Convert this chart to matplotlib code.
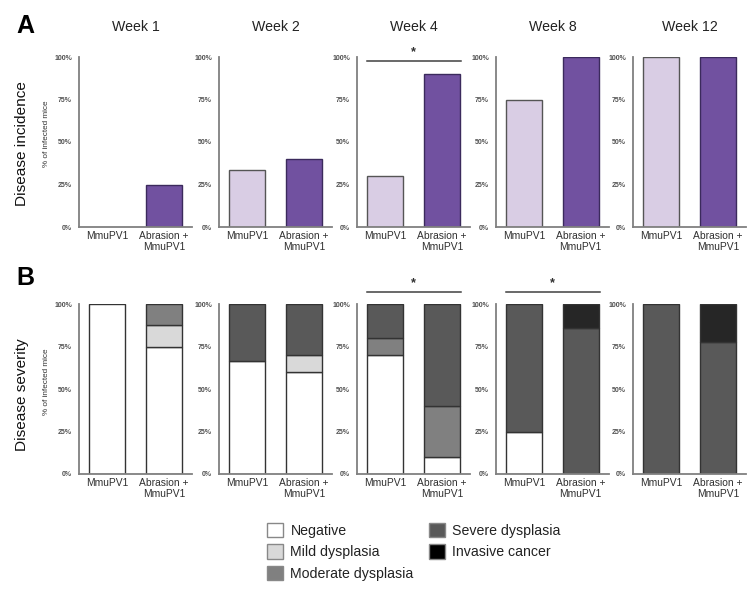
import matplotlib
matplotlib.use("Agg")
import matplotlib.pyplot as plt
from matplotlib.patches import Patch
import numpy as np

plt.rcParams['font.family'] = ['Liberation Sans', 'DejaVu Sans']

weeks = ["Week 1", "Week 2", "Week 4", "Week 8", "Week 12"]
groups = ["MmuPV1", "Abrasion +\nMmuPV1"]

# panel A: % of infected mice with disease
incidence_mmupv1 = [0, 33.3, 30, 75, 100]
incidence_abrasion = [25, 40, 90, 100, 100]

# panel B: severity breakdown (% of infected mice)
severity_labels = ["Negative", "Mild dysplasia", "Moderate dysplasia",
                   "Severe dysplasia", "Invasive cancer"]
negative_mmupv1 = [100, 66.7, 70, 25, 0]
negative_abrasion = [75, 60, 10, 0, 0]
mild_mmupv1 = [0, 0, 0, 0, 0]
mild_abrasion = [12.5, 10, 0, 0, 0]
moderate_mmupv1 = [0, 0, 10, 0, 0]
moderate_abrasion = [12.5, 0, 30, 0, 0]
severe_mmupv1 = [0, 33.3, 20, 75, 100]
severe_abrasion = [0, 30, 60, 85.7, 77.8]
invasive_mmupv1 = [0, 0, 0, 0, 0]
invasive_abrasion = [0, 0, 0, 14.3, 22.2]

sig_a = [False, False, True, False, False]
sig_b = [False, False, True, True, False]

yticks = [0, 25, 50, 75, 100]

purple_light = '#d9cde4'
purple_dark = '#7151a0'
sev_colors = ['#ffffff', '#d9d9d9', '#808080', '#595959', '#262626']
legend_colors = ['#ffffff', '#d9d9d9', '#808080', '#595959', '#000000']

W, H = 756, 594
fig = plt.figure(figsize=(W / 100, H / 100), dpi=100)

lefts = [79, 219, 357, 496, 633]   # pixel x of each y-axis
ax_w = 113
ax_h = 170
top_a, top_b = 57, 304


def make_ax(left, top):
    ax = fig.add_axes([left / W, 1 - (top + ax_h) / H, ax_w / W, ax_h / H])
    for s in ['top', 'right']:
        ax.spines[s].set_visible(False)
    for s in ['left', 'bottom']:
        ax.spines[s].set_color('#808080')
        ax.spines[s].set_linewidth(1.3)
    ax.set_xlim(-0.5, 1.5)
    ax.set_ylim(0, 100)
    ax.set_yticks(yticks)
    ax.set_yticklabels([f"{v}%" for v in yticks], fontsize=5, fontweight='bold',
                       color='#505050')
    ax.set_xticks([0, 1])
    ax.set_xticklabels(groups, fontsize=7.4, color='#303030', linespacing=1.05)
    ax.tick_params(axis='both', length=0)
    ax.tick_params(axis='y', pad=5)
    ax.tick_params(axis='x', pad=3)
    return ax


def add_sig(ax, y_line, y_star):
    ax.plot([-0.32, 1.34], [y_line, y_line], color='#404040', lw=1.1,
            clip_on=False, transform=ax.get_xaxis_transform())
    ax.text(0.5, y_star, "*", ha='center', va='center', fontsize=9,
            fontweight='bold', color='#303030', transform=ax.get_xaxis_transform())


bw = 0.64
for i in range(5):
    # panel A
    ax = make_ax(lefts[i], top_a)
    vals = [incidence_mmupv1[i], incidence_abrasion[i]]
    cols = [purple_light, purple_dark]
    edges = ['#555555', '#3b2a5c']
    for x in range(2):
        if vals[x] > 0:
            ax.bar(x, vals[x], width=bw, color=cols[x], edgecolor=edges[x], lw=1)
    ax.set_title(weeks[i], fontsize=10.2, color='#222222', pad=19)
    if sig_a[i]:
        add_sig(ax, 0.976, 1.03)

    # panel B
    ax = make_ax(lefts[i], top_b)
    per_group = [
        [negative_mmupv1[i], mild_mmupv1[i], moderate_mmupv1[i],
         severe_mmupv1[i], invasive_mmupv1[i]],
        [negative_abrasion[i], mild_abrasion[i], moderate_abrasion[i],
         severe_abrasion[i], invasive_abrasion[i]],
    ]
    for x in range(2):
        bottom = 0
        for k, h in enumerate(per_group[x]):
            if h > 0:
                ax.bar(x, h, bottom=bottom, width=bw, color=sev_colors[k],
                       edgecolor='#333333', lw=1)
            bottom += h
    if sig_b[i]:
        add_sig(ax, 1.07, 1.12)

# panel letters and y labels
fig.text(16 / W, 1 - 26 / H, "A", fontsize=18, fontweight='bold', va='center')
fig.text(16 / W, 1 - 278 / H, "B", fontsize=18, fontweight='bold', va='center')
fig.text(22 / W, 1 - 144 / H, "Disease incidence", fontsize=11.1, rotation=90,
         ha='center', va='center', color='#111111')
fig.text(47 / W, 1 - 134 / H, "% of infected mice", fontsize=5.9, rotation=90,
         ha='center', va='center', color='#333333')
fig.text(22 / W, 1 - 395 / H, "Disease severity", fontsize=11.1, rotation=90,
         ha='center', va='center', color='#111111')
fig.text(47 / W, 1 - 382 / H, "% of infected mice", fontsize=5.9, rotation=90,
         ha='center', va='center', color='#333333')

handles = [Patch(facecolor=c, edgecolor='#888888', lw=1) for c in legend_colors]
leg = fig.legend(handles, severity_labels, ncol=2, loc='upper left',
                 bbox_to_anchor=(267 / W, 1 - 523 / H), frameon=False,
                 fontsize=10.2, handlelength=1.15, handleheight=1.15,
                 handletextpad=0.5, labelspacing=0.47, columnspacing=1.05,
                 borderaxespad=0, borderpad=0)
for t in leg.get_texts():
    t.set_color('#222222')

fig.savefig("out.png", dpi=100)
